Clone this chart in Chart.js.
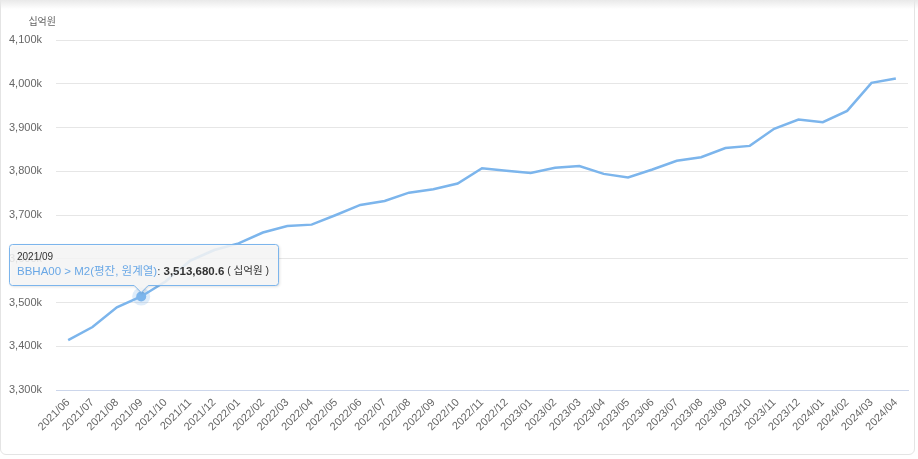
<!DOCTYPE html>
<html>
<head>
<meta charset="utf-8">
<script src="https://cdn.jsdelivr.net/npm/chart.js@4.4.1/dist/chart.umd.min.js"></script>
<style>
  html, body { margin: 0; padding: 0; background: #fff; }
  #wrap { position: relative; width: 918px; height: 459px; overflow: hidden; }
  #card { position: absolute; left: 0; top: -6px; width: 915px; height: 461px;
          border: 1px solid #e4e4e4; border-radius: 6px; box-sizing: border-box; background: #fff; }
  #topShade { position: absolute; left: 0; top: 0; width: 918px; height: 9px;
              background: linear-gradient(#e9e9e9, rgba(255,255,255,0)); }
  #chart { position: absolute; left: 0; top: 0; }
</style>
</head>
<body>
<div id="wrap">
  <div id="card"></div>
  <div id="topShade"></div>
  <canvas id="chart" width="918" height="459"></canvas>
</div>
<script>
const months = [
  '2021/06', '2021/07', '2021/08', '2021/09', '2021/10', '2021/11', '2021/12',
  '2022/01', '2022/02', '2022/03', '2022/04', '2022/05', '2022/06', '2022/07',
  '2022/08', '2022/09', '2022/10', '2022/11', '2022/12', '2023/01', '2023/02',
  '2023/03', '2023/04', '2023/05', '2023/06', '2023/07', '2023/08', '2023/09',
  '2023/10', '2023/11', '2023/12', '2024/01', '2024/02', '2024/03', '2024/04'
];

// M2 (평잔, 원계열), 십억원
const m2Values = [
  3414000, 3444000, 3489000, 3513680.6, 3548000, 3595000, 3620000,
  3635000, 3660000, 3675000, 3678000, 3700000, 3723000, 3732000,
  3751000, 3759000, 3772000, 3807000, 3801000, 3796000, 3808000,
  3812000, 3794000, 3786000, 3804000, 3824000, 3832000, 3853000,
  3858000, 3897000, 3918000, 3912000, 3938000, 4002000, 4012000
];

const yTicks = [3300000, 3400000, 3500000, 3600000, 3700000, 3800000, 3900000, 4000000, 4100000];

const seriesName = 'BBHA00 > M2(평잔, 원계열)';
const unitName = '십억원';
const hoverIndex = 3;

const lineColor = '#7cb5ec';
const baseFont = "'Liberation Sans', 'Noto Sans CJK KR', sans-serif";

const fmt = n => n.toLocaleString('en-US', { minimumFractionDigits: 1, maximumFractionDigits: 1 });

// unit label above the y axis, halo and tooltip for the hovered point
const extras = {
  id: 'extras',
  beforeDatasetsDraw(chart) {
    const ctx = chart.ctx;
    const pt = chart.getDatasetMeta(0).data[hoverIndex];
    ctx.save();
    ctx.fillStyle = 'rgba(124,181,236,0.25)';
    ctx.beginPath();
    ctx.arc(pt.x, pt.y, 9, 0, Math.PI * 2);
    ctx.fill();
    ctx.restore();
  },
  afterDraw(chart) {
    const ctx = chart.ctx;
    const area = chart.chartArea;
    ctx.save();
    ctx.font = '10px ' + baseFont;
    ctx.fillStyle = '#666';
    ctx.textAlign = 'right';
    ctx.textBaseline = 'middle';
    ctx.fillText(unitName, area.left, 22);

    const pt = chart.getDatasetMeta(0).data[hoverIndex];
    const parts = [
      { t: seriesName, c: '#6aa8e6', f: '11.5px ' + baseFont },
      { t: ': ', c: '#333', f: '11.5px ' + baseFont },
      { t: fmt(m2Values[hoverIndex]), c: '#333', f: 'bold 11.5px ' + baseFont },
      { t: ' ( ' + unitName + ' )', c: '#333', f: '10.5px ' + baseFont }
    ];
    let w = 0;
    parts.forEach(p => { ctx.font = p.f; p.w = ctx.measureText(p.t).width; w += p.w; });
    const boxW = Math.round(w + 17);
    const boxH = 41;
    const boxX = Math.max(9, Math.round(pt.x - boxW / 2)) + 0.5;
    const boxY = Math.round(pt.y - 12 - boxH) + 0.5;
    const r = 3, cx = pt.x, cb = boxY + boxH;

    ctx.beginPath();
    ctx.moveTo(boxX + r, boxY);
    ctx.lineTo(boxX + boxW - r, boxY);
    ctx.arcTo(boxX + boxW, boxY, boxX + boxW, boxY + r, r);
    ctx.lineTo(boxX + boxW, cb - r);
    ctx.arcTo(boxX + boxW, cb, boxX + boxW - r, cb, r);
    ctx.lineTo(cx + 7, cb);
    ctx.lineTo(cx, cb + 7);
    ctx.lineTo(cx - 7, cb);
    ctx.lineTo(boxX + r, cb);
    ctx.arcTo(boxX, cb, boxX, cb - r, r);
    ctx.lineTo(boxX, boxY + r);
    ctx.arcTo(boxX, boxY, boxX + r, boxY, r);
    ctx.closePath();
    ctx.shadowColor = 'rgba(0,0,0,0.18)';
    ctx.shadowBlur = 3;
    ctx.shadowOffsetX = 1;
    ctx.shadowOffsetY = 1;
    ctx.fillStyle = 'rgba(249,249,249,0.85)';
    ctx.fill();
    ctx.shadowColor = 'transparent';
    ctx.strokeStyle = lineColor;
    ctx.lineWidth = 1;
    ctx.stroke();

    ctx.textAlign = 'left';
    ctx.textBaseline = 'middle';
    ctx.font = '10px ' + baseFont;
    ctx.fillStyle = '#333';
    ctx.fillText(months[hoverIndex], boxX + 7.5, boxY + 13);
    let x = boxX + 7.5;
    parts.forEach(p => {
      ctx.font = p.f;
      ctx.fillStyle = p.c;
      ctx.fillText(p.t, x, boxY + 27);
      x += p.w;
    });
    ctx.restore();
  }
};

new Chart('chart', {
  type: 'line',
  data: {
    labels: months,
    datasets: [{
      label: seriesName,
      data: m2Values,
      borderColor: lineColor,
      backgroundColor: lineColor,
      borderWidth: 2.5,
      tension: 0,
      pointRadius: months.map((m, i) => i === hoverIndex ? 5 : 0),
      pointBackgroundColor: lineColor,
      pointBorderColor: '#fff',
      pointBorderWidth: 0
    }]
  },
  options: {
    responsive: false,
    animation: false,
    events: [],
    layout: { padding: { top: 40, right: 10, left: 0, bottom: 0 } },
    plugins: { legend: { display: false }, tooltip: { enabled: false } },
    scales: {
      x: {
        offset: true,
        afterFit: s => { s.height = 69; },
        grid: { display: false, drawTicks: false },
        border: { display: true, color: '#ccd6eb', width: 1 },
        ticks: {
          autoSkip: false,
          minRotation: 45,
          maxRotation: 45,
          padding: 6,
          color: '#666',
          font: { family: baseFont, size: 11 }
        }
      },
      y: {
        min: yTicks[0],
        max: yTicks[yTicks.length - 1],
        afterBuildTicks: s => { s.ticks = yTicks.map(v => ({ value: v })); },
        afterFit: s => { s.width = 56; },
        grid: { color: '#e6e6e6', drawTicks: false },
        border: { display: false },
        ticks: {
          padding: 14,
          color: '#666',
          font: { family: baseFont, size: 11 },
          callback: v => (v / 1000).toLocaleString('en-US') + 'k'
        }
      }
    }
  },
  plugins: [extras]
});
</script>
</body>
</html>
